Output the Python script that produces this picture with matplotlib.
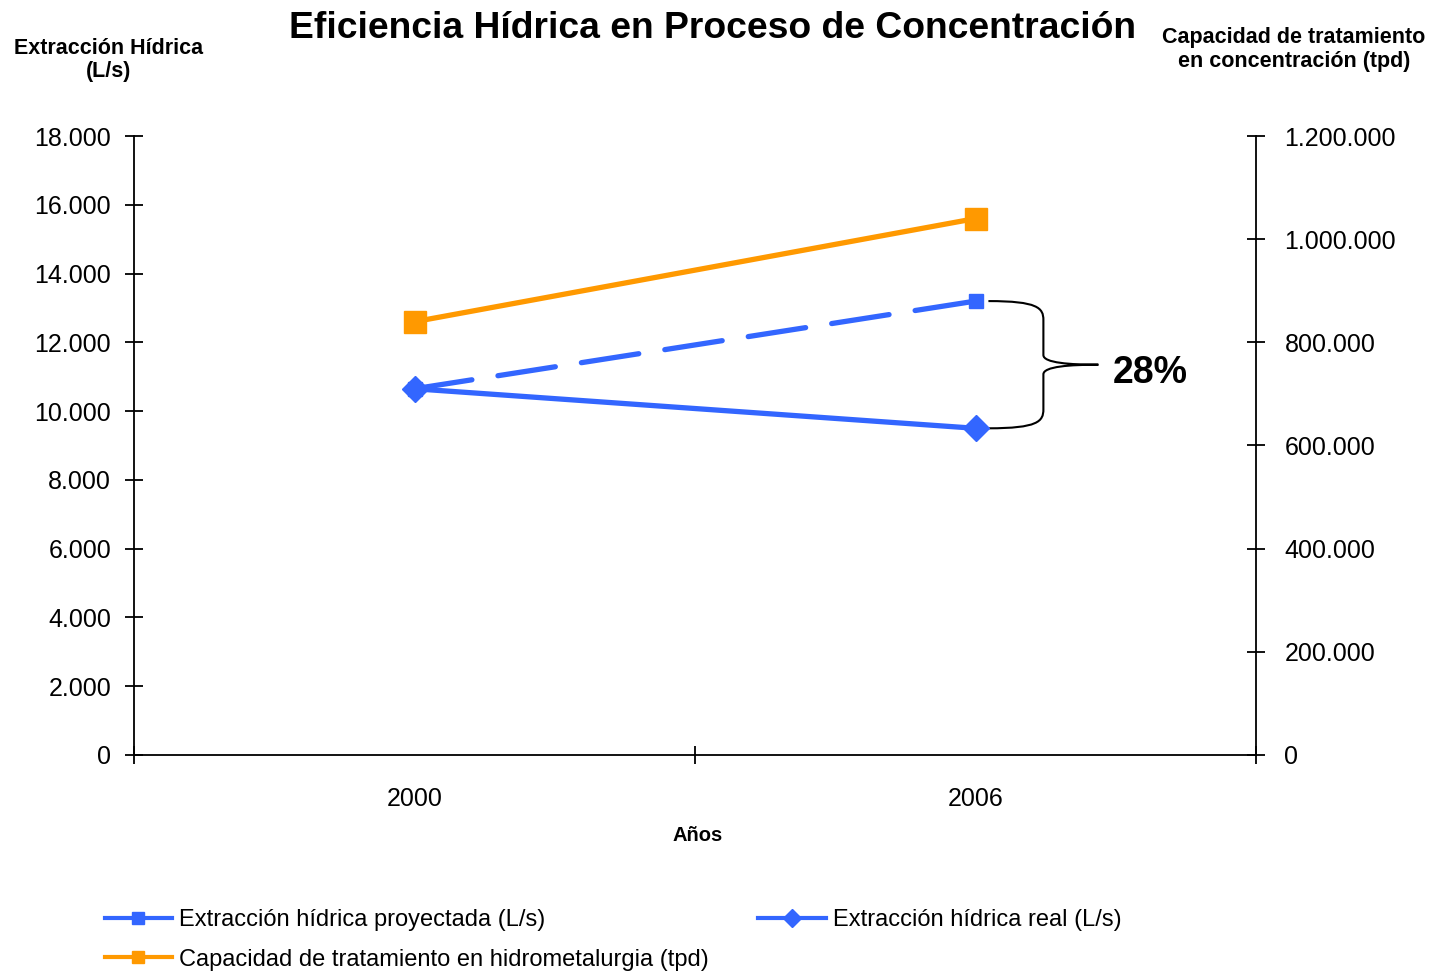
import numpy as np
import matplotlib.pyplot as plt
from matplotlib.path import Path
from matplotlib.patches import PathPatch
from matplotlib.lines import Line2D
from matplotlib.ticker import FuncFormatter

plt.rcParams['font.family'] = ['Liberation Sans', 'DejaVu Sans']

years = ['2000', '2006']
proyectada = [10650, 13200]
real = [10650, 9500]
capacidad = [840000, 1040000]
left_ticks = [0, 2000, 4000, 6000, 8000, 10000, 12000, 14000, 16000, 18000]
right_ticks = [0, 200000, 400000, 600000, 800000, 1000000, 1200000]

blue = '#3366FF'
orange = '#FF9900'


def miles(v, pos=None):
    return f'{int(v):,}'.replace(',', '.')


fig = plt.figure(figsize=(14.32, 9.71), dpi=100)
ax = fig.add_axes([0.0936, 0.2225, 0.7835, 0.6374])
ax2 = ax.twinx()

x = np.arange(len(years))
ax.plot(x, proyectada, color=blue, lw=3.8, ls=(0, (11, 5)), dash_capstyle='round',
        marker='s', ms=10, zorder=3)
ax.plot(x, real, color=blue, lw=3.8, marker='D', ms=13, zorder=3)
ax2.plot(x, capacidad, color=orange, lw=3.8, marker='s', ms=16, zorder=3)

ax.set_xlim(-0.5, 1.5)
ax.set_ylim(0, 18000)
ax2.set_ylim(0, 1200000)
ax.set_yticks(left_ticks)
ax2.set_yticks(right_ticks)
ax.yaxis.set_major_formatter(FuncFormatter(miles))
ax2.yaxis.set_major_formatter(FuncFormatter(miles))

ax.set_xticks(x)
ax.set_xticklabels(years)
ax.set_xticks([-0.5, 0.5, 1.5], minor=True)
ax.tick_params(axis='x', which='major', length=0, pad=23, labelsize=18)
ax.tick_params(axis='x', which='minor', direction='inout', length=13, width=1.3)
ax.tick_params(axis='y', direction='inout', length=13, width=1.3, pad=10, labelsize=18)
ax2.tick_params(axis='y', direction='inout', length=13, width=1.3, pad=14, labelsize=18)

for a in (ax, ax2):
    a.spines['top'].set_visible(False)
    for s in a.spines.values():
        s.set_linewidth(1.3)
ax.spines['right'].set_visible(False)
ax2.spines['left'].set_visible(False)
ax2.spines['bottom'].set_visible(False)

# llave del 28%
top, bot = proyectada[1], real[1]
mid = (top + bot) / 2
x0, x1, x2 = 1.023, 1.121, 1.219
verts = [(x0, top), (x1 - 0.01, top), (x1, top - 200), (x1, top - 550),
         (x1, mid + 280),
         (x1, mid + 50), (x2 - 0.05, mid), (x2, mid),
         (x2 - 0.05, mid), (x1, mid - 50), (x1, mid - 280),
         (x1, bot + 550),
         (x1, bot + 200), (x1 - 0.01, bot), (x0, bot)]
codes = [Path.MOVETO, Path.CURVE4, Path.CURVE4, Path.CURVE4,
         Path.LINETO,
         Path.CURVE4, Path.CURVE4, Path.CURVE4,
         Path.CURVE4, Path.CURVE4, Path.CURVE4,
         Path.LINETO,
         Path.CURVE4, Path.CURVE4, Path.CURVE4]
ax.add_patch(PathPatch(Path(verts, codes), fc='none', ec='black', lw=1.5, clip_on=False))
ax.text(1.245, mid - 250, '28%', fontsize=27, fontweight='bold', va='center', ha='left')

fig.text(0.4975, 0.971, 'Eficiencia Hídrica en Proceso de Concentración',
         fontsize=26.8, fontweight='bold', ha='center', va='center')
fig.text(0.0755, 0.938, 'Extracción Hídrica\n(L/s)', fontsize=15.5, fontweight='bold',
         ha='center', va='center', linespacing=1.15)
fig.text(0.9036, 0.949, 'Capacidad de tratamiento\nen concentración (tpd)', fontsize=15.5,
         fontweight='bold', ha='center', va='center', linespacing=1.15)
fig.text(0.4874, 0.140, 'Años', fontsize=14.5, fontweight='bold', ha='center', va='center')

handles = [
    Line2D([], [], color=blue, lw=3, marker='s', ms=9),
    Line2D([], [], color=orange, lw=3, marker='s', ms=9),
    Line2D([], [], color=blue, lw=3, marker='D', ms=9),
]
labels = ['Extracción hídrica proyectada (L/s)',
          'Capacidad de tratamiento en hidrometalurgia (tpd)',
          'Extracción hídrica real (L/s)']
fig.legend(handles, labels, loc='upper left', bbox_to_anchor=(0.073, 0.064),
           ncol=2, frameon=False, fontsize=17, handlelength=2.85, handletextpad=0.3,
           columnspacing=2.1, labelspacing=0.75, borderpad=0, borderaxespad=0)

fig.savefig('out.png', dpi=100)
